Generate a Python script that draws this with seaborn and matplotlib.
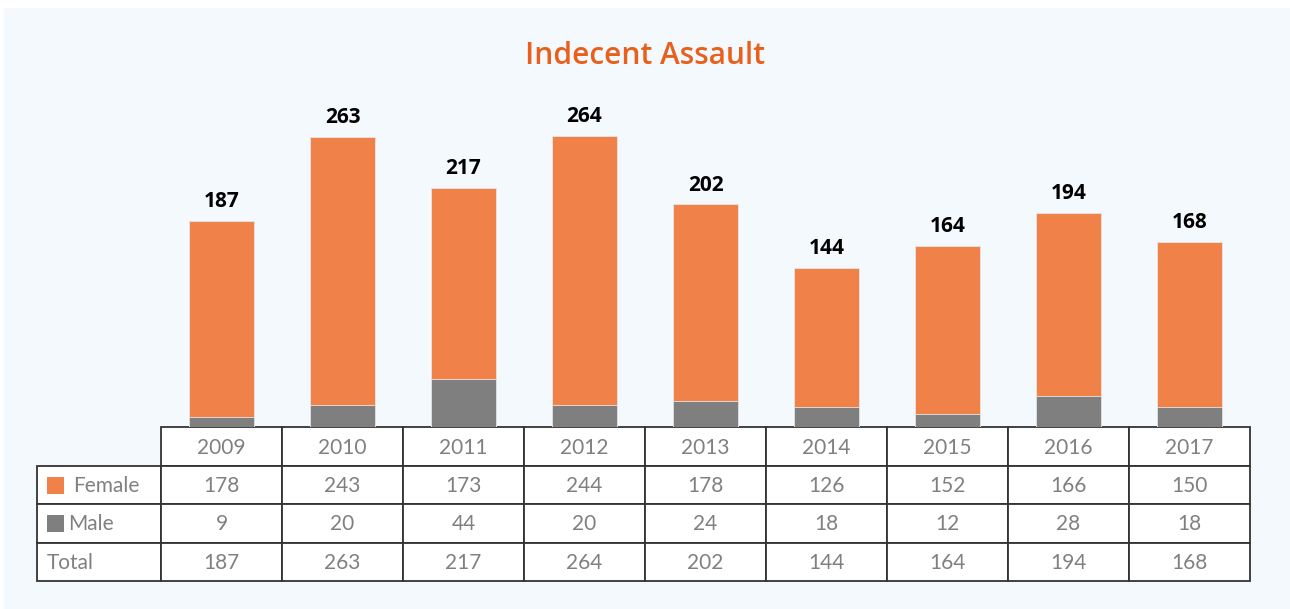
import matplotlib
matplotlib.use("Agg")
import matplotlib.pyplot as plt
from matplotlib.patches import Rectangle
import pandas as pd
import seaborn as sns

years = ["2009", "2010", "2011", "2012", "2013", "2014", "2015", "2016", "2017"]
female = [178, 243, 173, 244, 178, 126, 152, 166, 150]
male = [9, 20, 44, 20, 24, 18, 12, 28, 18]
total = [187, 263, 217, 264, 202, 144, 164, 194, 168]
row_names = ["Female", "Male", "Total"]

orange = "#f08148"
grey = "#7f7f7f"
title_col = "#e8601c"
txt_col = "#808080"
line_col = "#333333"

df = pd.DataFrame({"year": years, "female": female, "male": male, "total": total})

sns.set_style("white")
plt.rcParams["font.family"] = ["Lato", "DejaVu Sans"]

W, H = 1290, 609
fig = plt.figure(figsize=(W / 100, H / 100), dpi=100)
fig.patch.set_facecolor("white")

# background panel + table drawn in pixel coords
bg = fig.add_axes([0, 0, 1, 1])
bg.set_xlim(0, W)
bg.set_ylim(H, 0)
bg.axis("off")
bg.add_patch(Rectangle((4, 8), W - 4, H - 8, facecolor="#f4f9fe", edgecolor="none"))

# bars
x0, x1, base, top = 161, 1250, 427, 90
ax = fig.add_axes([x0 / W, 1 - base / H, (x1 - x0) / W, (base - top) / H])
ax.patch.set_alpha(0)
sns.barplot(data=df, x="year", y="total", color=orange, width=0.53, saturation=1,
            edgecolor="#e6e6e6", linewidth=0.6, ax=ax)
sns.barplot(data=df, x="year", y="male", color=grey, width=0.53, saturation=1,
            edgecolor="#e6e6e6", linewidth=0.6, ax=ax)
ax.set_xlim(-0.5, len(years) - 0.5)
ax.set_ylim(0, (base - top) / 1.102)
ax.axis("off")
for i, t in enumerate(total):
    ax.text(i, t + 8, str(t), ha="center", va="bottom", fontsize=15,
            fontweight="bold", color="black", family=["Open Sans", "DejaVu Sans"])

fig.text(0.5, 1 - 56 / H, "Indecent Assault", ha="center", va="center",
         fontsize=21.5, fontweight="semibold", color=title_col,
         family=["Open Sans", "DejaVu Sans"])

# table
cw = (x1 - x0) / len(years)
rows_y = [427, 466, 504, 543, 581]
lab_x = 37
lw = 1.3
fs = 15
for j, y in enumerate(years):
    cx = x0 + j * cw
    bg.add_patch(Rectangle((cx, rows_y[0]), cw, rows_y[1] - rows_y[0],
                           facecolor="white", edgecolor=line_col, lw=lw))
    bg.text(cx + cw / 2, (rows_y[0] + rows_y[1]) / 2 + 1, y, ha="center", va="center",
            fontsize=fs, color=txt_col)
table_vals = [female, male, total]
for r, name in enumerate(row_names):
    ya, yb = rows_y[r + 1], rows_y[r + 2]
    bg.add_patch(Rectangle((lab_x, ya), x0 - lab_x, yb - ya,
                           facecolor="white", edgecolor=line_col, lw=lw))
    if r < 2:
        bg.add_patch(Rectangle((47, ya + 11), 17, 17,
                               facecolor=[orange, grey][r], edgecolor="none"))
        tx = 73 if r == 0 else 68
    else:
        tx = 47
    bg.text(tx, (ya + yb) / 2 + 1, name, ha="left", va="center",
            fontsize=fs, color=txt_col)
    for j, v in enumerate(table_vals[r]):
        cx = x0 + j * cw
        bg.add_patch(Rectangle((cx, ya), cw, yb - ya,
                               facecolor="white", edgecolor=line_col, lw=lw))
        bg.text(cx + cw / 2, (ya + yb) / 2 + 1, str(v), ha="center", va="center",
                fontsize=fs, color=txt_col)

fig.savefig("out.png", dpi=100, facecolor="white")
